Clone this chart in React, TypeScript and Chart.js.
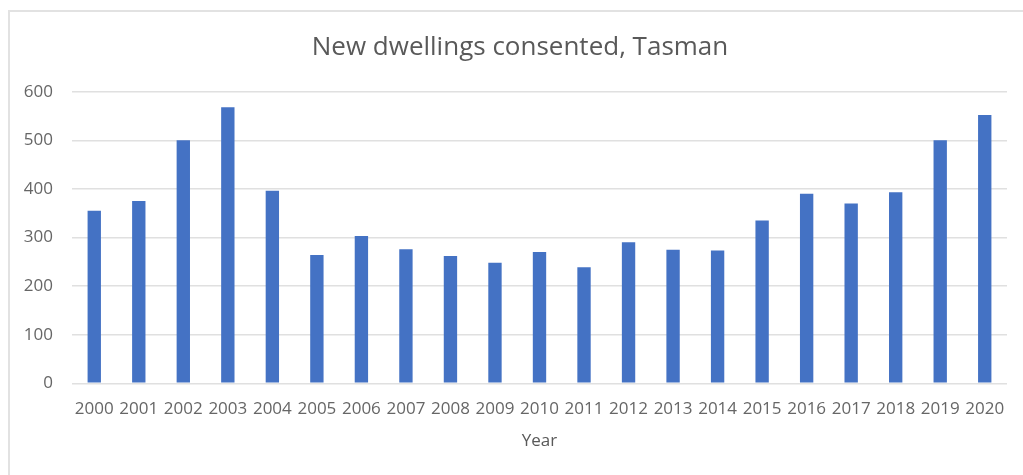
import React, { useEffect, useRef } from "react";
import { Chart, registerables } from "chart.js";

Chart.register(...registerables);

const chartTitle = "New dwellings consented, Tasman";
const xAxisTitle = "Year";
const years = [
  "2000", "2001", "2002", "2003", "2004", "2005", "2006", "2007", "2008", "2009", "2010",
  "2011", "2012", "2013", "2014", "2015", "2016", "2017", "2018", "2019", "2020",
];
const dwellings = [
  355, 375, 500, 568, 396, 264, 303, 276, 262, 248, 270,
  239, 290, 275, 273, 335, 390, 370, 393, 500, 552,
];
const yTicks = [0, 100, 200, 300, 400, 500, 600];

const FONT = "'Open Sans', 'Liberation Sans', sans-serif";

const titlePlugin = {
  id: "customTitle",
  afterDraw(chart: any) {
    const ctx = chart.ctx;
    ctx.save();
    ctx.font = `26px ${FONT}`;
    ctx.fillStyle = "#595959";
    ctx.textAlign = "center";
    ctx.textBaseline = "middle";
    ctx.fillText(chartTitle, 520, 48);
    ctx.restore();
  },
};

export default function App() {
  const ref = useRef<HTMLCanvasElement | null>(null);

  useEffect(() => {
    if (!ref.current) return;
    const chart = new Chart(ref.current, {
      type: "bar",
      data: {
        labels: years,
        datasets: [
          {
            label: chartTitle,
            data: dwellings,
            backgroundColor: "#4472C4",
            borderWidth: 0,
            barPercentage: 0.3,
            categoryPercentage: 1,
          },
        ],
      },
      plugins: [titlePlugin],
      options: {
        animation: false,
        responsive: false,
        maintainAspectRatio: false,
        layout: { padding: { top: 91.7, right: 16, left: 0, bottom: 24 } },
        plugins: {
          legend: { display: false },
          title: { display: false },
          tooltip: { enabled: false },
        },
        scales: {
          x: {
            grid: { display: false, drawTicks: false },
            border: { display: false },
            ticks: {
              color: "#666666",
              font: { family: FONT, size: 17 },
              padding: 16,
              maxRotation: 0,
              autoSkip: false,
            },
            title: {
              display: true,
              text: xAxisTitle,
              color: "#595959",
              font: { family: FONT, size: 17 },
              padding: { top: 4, bottom: 0 },
            },
            afterFit(scale: any) {
              scale.height = 475 - 24 - 383.3;
            },
          },
          y: {
            min: 0,
            max: 600,
            afterBuildTicks(scale: any) {
              scale.ticks = yTicks.map((v) => ({ value: v }));
            },
            grid: { color: "#e0e0e0", lineWidth: 1.5, drawTicks: false },
            border: { display: false },
            ticks: {
              color: "#666666",
              font: { family: FONT, size: 17 },
              padding: 19,
            },
            afterFit(scale: any) {
              scale.width = 72;
            },
          },
        },
      },
    });
    return () => chart.destroy();
  }, []);

  return (
    <div
      style={{
        position: "fixed",
        left: 0,
        top: 0,
        width: 1023,
        height: 475,
        overflow: "hidden",
        background: "#ffffff",
      }}
    >
      <div
        style={{
          position: "absolute",
          left: 8,
          top: 10,
          width: 1100,
          height: 600,
          border: "2px solid #e2e2e2",
        }}
      />
      <canvas
        ref={ref}
        width={1023}
        height={475}
        style={{ position: "absolute", left: 0, top: 0, width: 1023, height: 475 }}
      />
    </div>
  );
}
